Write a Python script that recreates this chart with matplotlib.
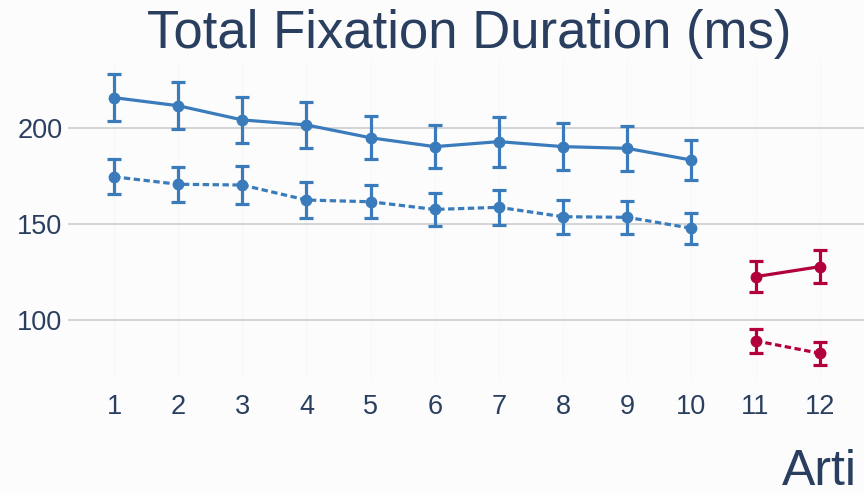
import matplotlib
matplotlib.use("Agg")
import matplotlib.pyplot as plt

# ---- data ----
x_a = [1, 2, 3, 4, 5, 6, 7, 8, 9, 10]
a_solid = [215.8, 211.6, 204.2, 201.6, 194.9, 190.3, 192.9, 190.3, 189.4, 183.3]
a_solid_err = [12.3, 12.3, 11.9, 11.8, 11.2, 11.3, 13.0, 12.1, 11.8, 10.6]
a_dot = [174.6, 170.7, 170.3, 162.5, 161.6, 157.6, 158.7, 153.8, 153.5, 147.8]
a_dot_err = [9.2, 9.2, 9.9, 9.5, 8.7, 8.7, 9.0, 8.9, 8.5, 8.0]

x_b = [11, 12]
b_solid = [122.6, 127.8]
b_solid_err = [7.9, 8.5]
b_dot = [89.2, 82.7]
b_dot_err = [6.2, 5.9]

x_ticks = [1, 2, 3, 4, 5, 6, 7, 8, 9, 10, 11, 12]
y_ticks = [100, 150, 200]
title = "Total Fixation Duration (ms)"
x_title = "Arti"  # visible part of the axis title (cut by the image edge)

BLUE = "#3a7cbb"
RED = "#b2003b"
TXT = "#2a3f5f"
BG = "#fcfcfd"

plt.rcParams['font.family'] = ['Liberation Sans', 'DejaVu Sans']

fig = plt.figure(figsize=(8.64, 4.95), dpi=100, facecolor=BG)
ax = fig.add_axes([68/864, 1-380/495, 1-68/864, 320/495])
ax.set_facecolor(BG)

lw = 2.3
ms = 7.5
cap = 5.2
dot_style = (0, (2.0, 1.1))

def series(x, y, e, color, ls):
    ax.errorbar(x, y, yerr=e, color=color, lw=lw, ls=ls, marker='o', ms=ms,
                capsize=cap, capthick=lw, elinewidth=lw, zorder=3)

series(x_a, a_solid, a_solid_err, BLUE, '-')
series(x_a, a_dot, a_dot_err, BLUE, dot_style)
series(x_b, b_solid, b_solid_err, RED, '-')
series(x_b, b_dot, b_dot_err, RED, dot_style)

ax.set_xlim(0.283, 12.69)
ax.set_ylim(68.8, 235.4)
ax.set_xticks(x_ticks)
ax.set_yticks(y_ticks)
ax.tick_params(axis='both', length=0, labelsize=19.5, labelcolor=TXT)
ax.tick_params(axis='x', pad=10)
ax.tick_params(axis='y', pad=4)
for s in ax.spines.values():
    s.set_visible(False)
for t in y_ticks:
    ax.axhline(t, color='#d4d4d4', lw=1.4, zorder=1)
for t in x_ticks:
    ax.axvline(t, color='#f7f7f8', lw=1.0, zorder=0.5)

fig.text(469/864, 1-48/495, title, ha='center', va='baseline',
         fontsize=38, color=TXT)
fig.text(782/864, 1-485/495, x_title, ha='left', va='baseline',
         fontsize=36, color=TXT)

fig.savefig("out.png", dpi=100, facecolor=BG)
